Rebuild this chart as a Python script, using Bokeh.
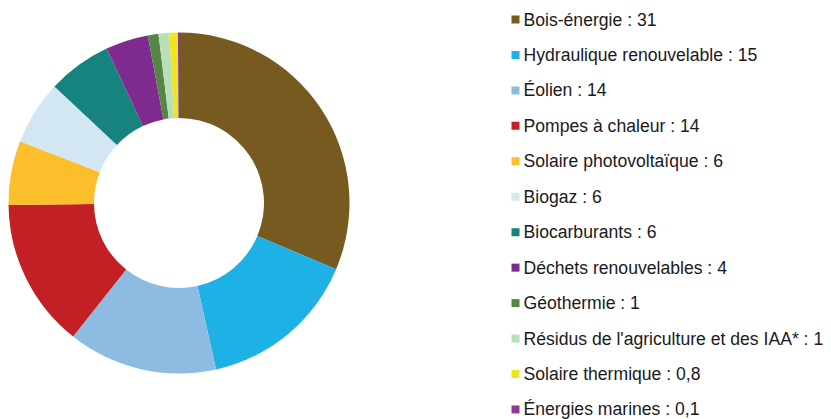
import math

from bokeh.core.properties import value
from bokeh.embed import file_html
from bokeh.models import ColumnDataSource, Range1d
from bokeh.plotting import figure
from bokeh.resources import INLINE

# Renewable energy shares, in the order drawn clockwise from the top
categories = [
    "Bois-énergie",
    "Hydraulique renouvelable",
    "Éolien",
    "Pompes à chaleur",
    "Solaire photovoltaïque",
    "Biogaz",
    "Biocarburants",
    "Déchets renouvelables",
    "Géothermie",
    "Résidus de l'agriculture et des IAA*",
    "Solaire thermique",
    "Énergies marines",
]
shares = [31, 15, 14, 14, 6, 6, 6, 4, 1, 1, 0.8, 0.1]
colors = [
    "#765A1F", "#1DB1E5", "#8DBBE1", "#C32026", "#FDBE2B", "#D3E6F3",
    "#16837F", "#7E2A8E", "#548744", "#BADEBA", "#EDE723", "#8E3A94",
]

W, H = 831, 419

# Donut geometry (screen pixels, y measured from the top)
cx, cy = 178.5, 202.5
r_out, r_in = 170.5, 85.0

# Legend geometry
leg_marker_x, leg_text_x = 515.0, 523.0
leg_top, leg_step = 19.0, 35.45


def fmt(v):
    s = f"{v:g}"
    return s.replace(".", ",")


total = sum(shares)
starts, ends = [], []
acc = 0.0
for v in shares:
    a0 = math.pi / 2 - 2 * math.pi * (acc + v) / total
    a1 = math.pi / 2 - 2 * math.pi * acc / total
    starts.append(a0)
    ends.append(a1)
    acc += v

wedges = ColumnDataSource(dict(
    start=starts, end=ends, color=colors, cat=categories, share=shares,
))

rows = list(range(len(categories)))
legend = ColumnDataSource(dict(
    mx=[leg_marker_x] * len(rows),
    tx=[leg_text_x] * len(rows),
    y=[H - (leg_top + i * leg_step) for i in rows],
    color=colors,
    label=[f"{c} : {fmt(v)}" for c, v in zip(categories, shares)],
))

p = figure(
    width=W, height=H,
    x_range=Range1d(0, W), y_range=Range1d(0, H),
    output_backend="svg", toolbar_location=None,
    min_border=0, outline_line_color=None,
    background_fill_color="white", border_fill_color="white",
)
p.axis.visible = False
p.grid.visible = False

p.annular_wedge(
    x=cx, y=H - cy, inner_radius=r_in, outer_radius=r_out,
    start_angle="start", end_angle="end",
    fill_color="color", line_color=None, source=wedges,
)

p.scatter(
    x="mx", y="y", size=8, marker="square",
    fill_color="color", line_color=None, source=legend,
)
p.text(
    x="tx", y="y", text="label", source=legend,
    text_font=value("Liberation Sans"), text_font_size=value("17.6px"),
    text_color="#1a1a1a", text_baseline="middle", text_align="left",
)

open("out.html", "w").write(file_html(p, INLINE))
